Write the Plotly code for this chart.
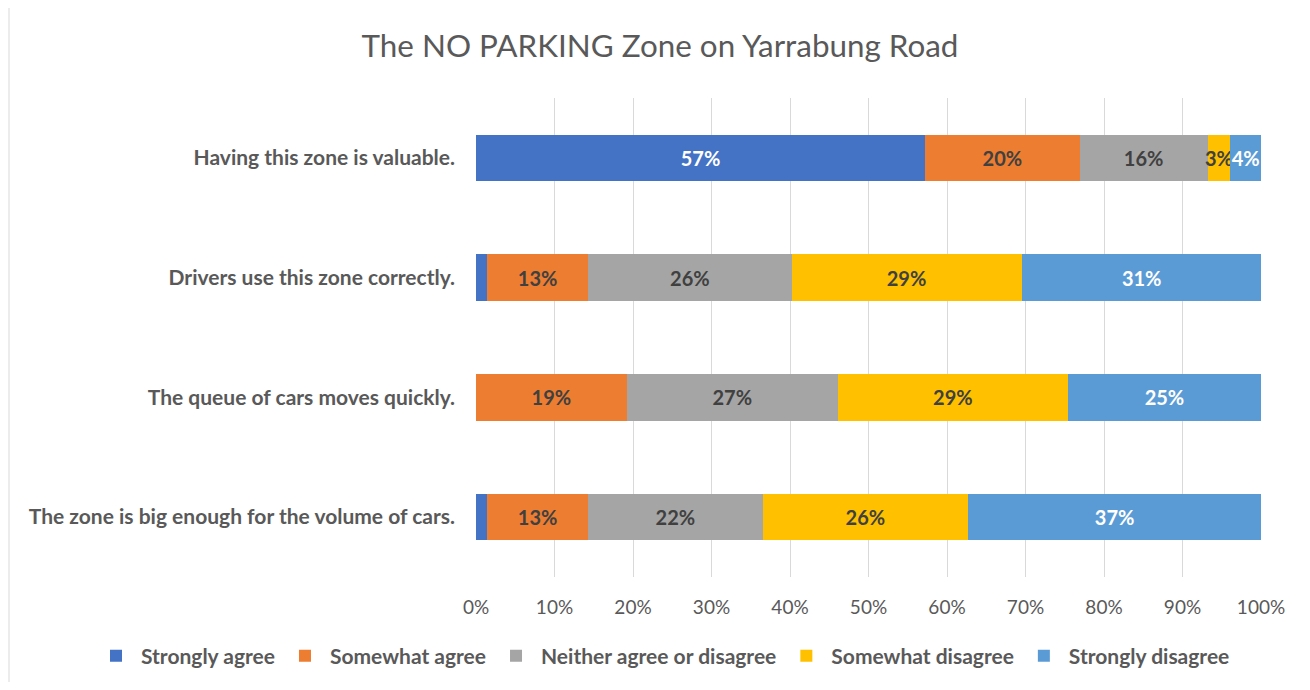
import plotly.graph_objects as go

categories = [
    "Having this zone is valuable.",
    "Drivers use this zone correctly.",
    "The queue of cars moves quickly.",
    "The zone is big enough for the volume of cars.",
]
series_names = ["Strongly agree", "Somewhat agree", "Neither agree or disagree",
                "Somewhat disagree", "Strongly disagree"]
strongly_agree = [57.2, 1.4, 0.0, 1.4]
somewhat_agree = [19.7, 12.9, 19.2, 12.9]
neither = [16.3, 25.9, 26.9, 22.2]
somewhat_disagree = [2.9, 29.3, 29.3, 26.2]
strongly_disagree = [3.9, 30.6, 24.6, 37.3]
tick_vals = list(range(0, 101, 10))
tick_text = [f"{v}%" for v in tick_vals]

series_values = [strongly_agree, somewhat_agree, neither, somewhat_disagree, strongly_disagree]
colors = ["#4472C4", "#ED7D31", "#A5A5A5", "#FFC000", "#5B9BD5"]
text_colors = ["#FFFFFF", "#404040", "#404040", "#404040", "#FFFFFF"]

FONT = "Lato"
W, H = 1294, 674          # page has an 8px body margin
OFF = 8
fig = go.Figure()
for name, vals, c, tc in zip(series_names, series_values, colors, text_colors):
    labels = [f"{round(v)}%" if v >= 2 else "" for v in vals]
    fig.add_trace(go.Bar(
        y=categories, x=vals, name=name, orientation="h",
        marker=dict(color=c, line=dict(width=0)),
        text=labels, textposition="inside", insidetextanchor="middle",
        textangle=0,
        textfont=dict(family=FONT, size=20, color=tc, weight="bold"),
        hoverinfo="skip",
    ))

plot_l, plot_r, plot_t, plot_b = 476 - OFF, 1261 - OFF, 98 - OFF, 577 - OFF
pw, ph = plot_r - plot_l, plot_b - plot_t
fig.update_layout(
    barmode="stack",
    bargap=0.61,
    width=W, height=H,
    margin=dict(l=plot_l, r=W - plot_r, t=plot_t, b=H - plot_b, autoexpand=False),
    paper_bgcolor="white", plot_bgcolor="white",
    uniformtext=dict(minsize=20, mode="show"),
    title=dict(text="The NO PARKING Zone on Yarrabung Road",
               x=(660 - OFF) / W, xref="container", xanchor="center",
               y=1 - (46 - OFF) / H, yref="container", yanchor="middle",
               font=dict(family=FONT, size=31.4, color="#595959")),
    font=dict(family=FONT, color="#595959"),
    showlegend=True,
    legend=dict(orientation="h", xref="paper", x=(91 - 476) / pw, xanchor="left",
                yref="paper", y=(577 - 656) / ph, yanchor="middle",
                font=dict(family=FONT, size=21, color="#595959", weight="bold"),
                traceorder="normal", itemwidth=40),
)
fig.update_xaxes(range=[0, 100], tickvals=tick_vals, ticktext=tick_text,
                 showgrid=True, gridcolor="#D9D9D9", gridwidth=1,
                 zeroline=False, showline=False, ticks="",
                 tickfont=dict(family=FONT, size=19, color="#595959"),
                 ticklabelstandoff=17, fixedrange=True)
fig.update_yaxes(categoryorder="array", categoryarray=categories, autorange="reversed",
                 showgrid=False, showline=False, ticks="", zeroline=False,
                 tickfont=dict(family=FONT, size=21, color="#595959", weight="bold"),
                 ticklabelstandoff=20, fixedrange=True)

# chart outer border (left/top edges visible, right/bottom beyond the frame)
x0 = (1 - plot_l) / pw
x1 = (W + 10 - plot_l) / pw
y1 = (plot_b - (-1)) / ph
y0 = (plot_b - (H + 10)) / ph
fig.add_shape(type="rect", xref="paper", yref="paper", x0=x0, x1=x1, y0=y0, y1=y1,
              line=dict(color="#D9D9D9", width=1), fillcolor="rgba(0,0,0,0)", layer="below")

fig.write_html("out.html")
